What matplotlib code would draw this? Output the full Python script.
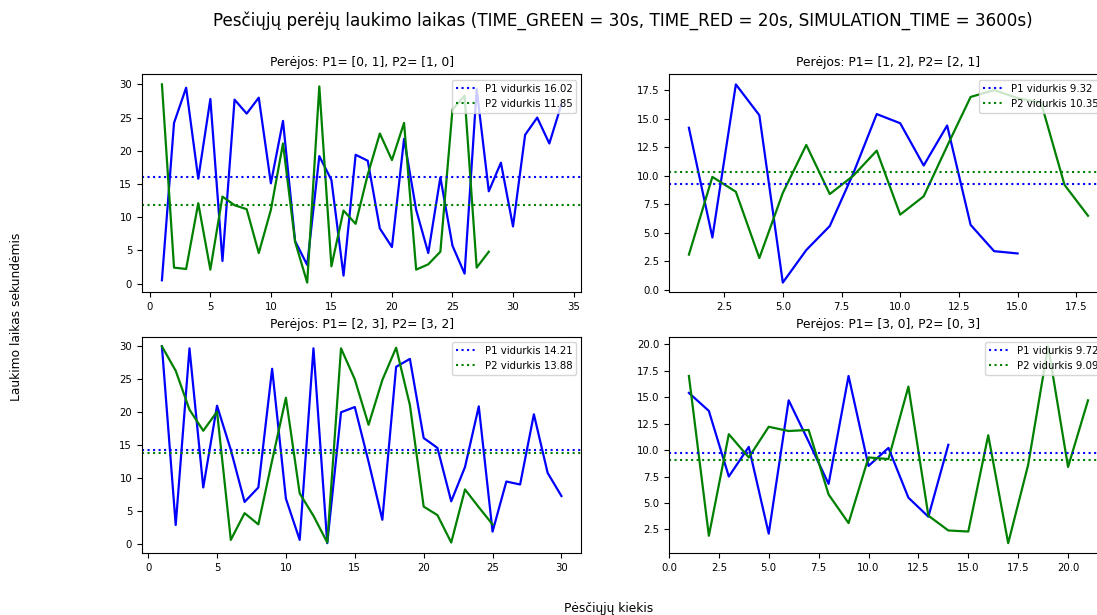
import matplotlib
matplotlib.use('Agg')
import matplotlib.pyplot as plt

# laukimo laikai (s) kiekvienai perejai, P1 - melyna, P2 - zalia
P1_01 = [0.5, 24.2, 29.5, 15.8, 27.8, 3.4, 27.7, 25.6, 28.0, 15.1, 24.5, 6.4, 2.8, 19.2, 15.6, 1.2, 19.4,
         18.5, 8.3, 5.5, 21.8, 11.1, 4.6, 16.0, 5.7, 1.5, 29.3, 13.9, 18.2, 8.6, 22.4, 25.0, 21.1, 27.0]
P2_01 = [30.0, 2.4, 2.2, 12.1, 2.1, 13.1, 11.8, 11.2, 4.6, 11.1, 21.1, 6.3, 0.15, 29.7, 2.6, 11.0, 9.0,
         16.4, 22.6, 18.6, 24.2, 2.1, 2.9, 4.8, 26.2, 28.3, 2.4, 4.8]

P1_12 = [14.2, 4.6, 18.0, 15.3, 0.65, 3.5, 5.6, 10.2, 15.4, 14.6, 10.9, 14.4, 5.7, 3.4, 3.2]
P2_12 = [3.1, 9.9, 8.6, 2.8, 8.5, 12.7, 8.4, 10.0, 12.2, 6.6, 8.2, 12.6, 16.9, 17.5, 16.8, 16.4, 9.2, 6.5]

P1_23 = [30.0, 2.9, 29.7, 8.6, 21.0, 14.3, 6.4, 8.6, 26.6, 6.9, 0.65, 29.7, 0.15, 20.0, 20.8, 12.5, 3.7,
         26.9, 28.1, 16.1, 14.6, 6.5, 11.7, 20.9, 1.9, 9.5, 9.05, 19.7, 10.8, 7.3]
P2_23 = [30.0, 26.3, 20.4, 17.2, 20.1, 0.65, 4.7, 3.0, 12.7, 22.2, 7.7, 4.3, 0.25, 29.7, 25.0, 18.1, 24.9,
         29.8, 21.1, 5.7, 4.4, 0.25, 8.3, 5.6, 3.0]

P1_30 = [15.4, 13.7, 7.5, 10.3, 2.1, 14.7, 10.8, 6.8, 17.0, 8.5, 10.2, 5.5, 3.7, 10.5]
P2_30 = [17.0, 1.9, 11.5, 9.3, 12.2, 11.8, 11.9, 5.8, 3.1, 9.3, 9.15, 16.0, 3.8, 2.4, 2.3, 11.4, 1.2,
         8.6, 19.8, 8.4, 14.7]

P1_VIDURKIAI = [16.02, 9.32, 14.21, 9.72]
P2_VIDURKIAI = [11.85, 10.35, 13.88, 9.09]
PEREJOS = ['P1= [0, 1], P2= [1, 0]', 'P1= [1, 2], P2= [2, 1]',
           'P1= [2, 3], P2= [3, 2]', 'P1= [3, 0], P2= [0, 3]']

serijos = [(P1_01, P2_01), (P1_12, P2_12), (P1_23, P2_23), (P1_30, P2_30)]

fig = plt.figure(figsize=(10.97, 6.15), dpi=100)

# asiu isdestymas (desinieji grafikai siek tiek iseina uz krasto)
pozicijos = [
    [0.1294, 0.5244, 0.4006, 0.3545],
    [0.6098, 0.5244, 0.4002, 0.3545],
    [0.1294, 0.1008, 0.4006, 0.3520],
    [0.6098, 0.1008, 0.4002, 0.3520],
]

for i, (p1, p2) in enumerate(serijos):
    ax = fig.add_axes(pozicijos[i])
    ax.plot(range(1, len(p1) + 1), p1, color='b', linewidth=1.6)
    ax.plot(range(1, len(p2) + 1), p2, color='g', linewidth=1.6)
    ax.axhline(P1_VIDURKIAI[i], color='b', linestyle=':', label=f'P1 vidurkis {P1_VIDURKIAI[i]:.2f}')
    ax.axhline(P2_VIDURKIAI[i], color='g', linestyle=':', label=f'P2 vidurkis {P2_VIDURKIAI[i]:.2f}')
    ax.set_title(f'Perėjos: {PEREJOS[i]}', fontsize=8.8)
    ax.tick_params(labelsize=7.3)
    ax.legend(loc='upper right', fontsize=7.3)

fig.text(0.5679, 0.966, 'Pesčiųjų perėjų laukimo laikas (TIME_GREEN = 30s, TIME_RED = 20s, SIMULATION_TIME = 3600s)',
         ha='center', va='center', fontsize=12.1)
fig.text(0.0146, 0.485, 'Laukimo laikas sekundėmis', rotation=90, ha='center', va='center', fontsize=8.8)
fig.text(0.555, 0.011, 'Pėsčiųjų kiekis', ha='center', va='center', fontsize=8.8)

fig.savefig('out.png', dpi=100)
